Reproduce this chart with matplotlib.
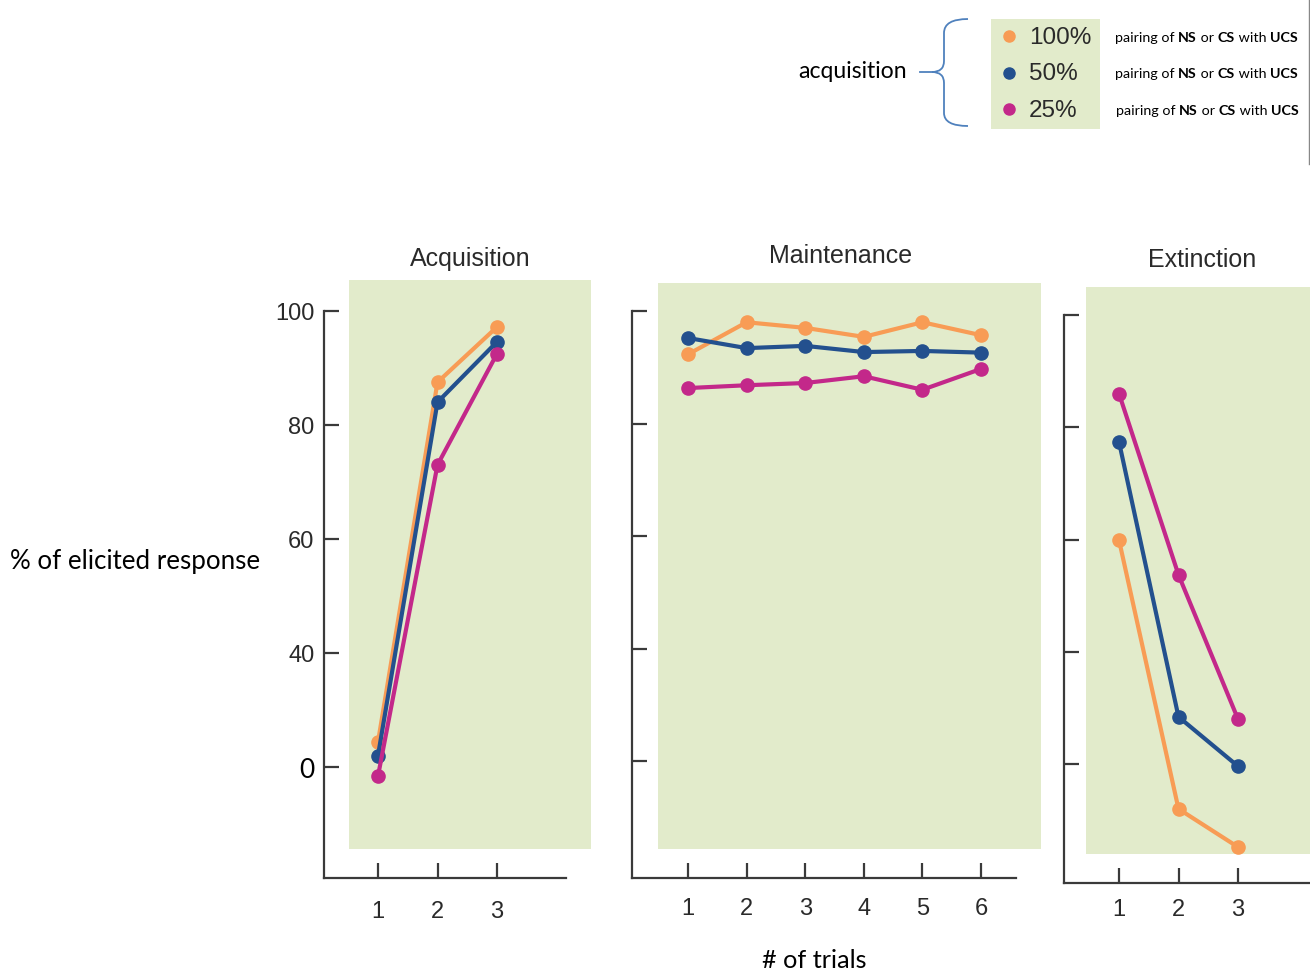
import numpy as np
import matplotlib
matplotlib.use('Agg')
import matplotlib.pyplot as plt
from matplotlib.patches import Rectangle, PathPatch
from matplotlib.path import Path

###############################################################################

# Values (% of elicited response per trial)
acq_trials = [1, 2, 3]
acq_100 = [24.4, 87.5, 97.2]
acq_50 = [22.0, 84.0, 94.6]
acq_25 = [18.4, 73.0, 92.5]

mnt_trials = [1, 2, 3, 4, 5, 6]
mnt_100 = [92.3, 98.0, 97.0, 95.4, 98.0, 95.7]
mnt_50 = [95.2, 93.4, 93.8, 92.7, 92.9, 92.6]
mnt_25 = [86.3, 86.8, 87.2, 88.4, 86.0, 89.7]

ext_trials = [1, 2, 3]
ext_100 = [59.9, 12.0, 5.2]
ext_50 = [77.4, 28.4, 19.6]
ext_25 = [86.0, 53.7, 28.0]

yticks = [20, 40, 60, 80, 100]
ytick_labels = ['0', '40', '60', '80', '100']

legend_labels = ['100%', '50%', '25%']

###############################################################################

W, H = 1310, 978
ORANGE = '#f89c55'
BLUE = '#23508e'
MAGENTA = '#c3288a'
GREEN = '#e2ebcb'
AXC = '#3a3a3a'
colors = [ORANGE, BLUE, MAGENTA]

fig = plt.figure(figsize=(W / 100, H / 100), dpi=100)

# overlay in pixel coords for the decorations (drawn first, underneath)
ov = fig.add_axes([0, 0, 1, 1])
ov.set_xlim(0, W)
ov.set_ylim(H, 0)
ov.axis('off')


def panel(box, x1px, dxpx, y100px, y20px, green, xend, series, trials,
          title, tx, ty, labels, xpad=16):
    left, right, bottom, top = box
    ax = fig.add_axes([left / W, 1 - bottom / H, (right - left) / W, (bottom - top) / H])
    k = 80.0 / (y20px - y100px)
    ax.set_xlim(1 + (left - x1px) / dxpx, 1 + (right - x1px) / dxpx)
    ax.set_ylim(20 + (y20px - bottom) * k, 20 + (y20px - top) * k)
    ax.patch.set_visible(False)

    gx0, gx1, gy0, gy1 = green
    ov.add_patch(Rectangle((gx0, gy0), gx1 - gx0, gy1 - gy0, color=GREEN, lw=0))

    for vals, c in zip(series, colors):
        ax.plot(trials, vals, color=c, lw=3.0, marker='o', ms=9.5, clip_on=False)

    for s in ['top', 'right']:
        ax.spines[s].set_visible(False)
    for s in ['left', 'bottom']:
        ax.spines[s].set_color(AXC)
        ax.spines[s].set_linewidth(1.6)
    ax.spines['left'].set_bounds(ax.get_ylim()[0], 100)
    ax.spines['bottom'].set_bounds(ax.get_xlim()[0], 1 + (xend - x1px) / dxpx)

    ax.set_xticks(trials)
    ax.set_xticklabels([str(t) for t in trials])
    ax.set_yticks(yticks)
    if labels:
        ax.set_yticklabels(ytick_labels)
    else:
        ax.set_yticklabels([])
    ax.tick_params(direction='in', length=11, width=1.6, color=AXC,
                   labelsize=17, labelcolor='#2a2a2a')
    ax.tick_params(axis='x', pad=xpad)
    ax.tick_params(axis='y', pad=7)
    for t in ax.get_xticklabels() + ax.get_yticklabels():
        t.set_fontfamily('Liberation Sans')
    if labels:
        lab0 = ax.get_yticklabels()[0]
        lab0.set_fontfamily('Lato')
        lab0.set_color('black')
        lab0.set_fontsize(19)

    ov.text(tx, ty, title, ha='center', va='center', fontsize=18,
            family='Liberation Sans', color='#2a2a2a')
    return ax


panel((324, 591, 879, 281), 378, 59.5, 312, 768, (349, 591, 281, 850), 566,
      [acq_100, acq_50, acq_25], acq_trials, 'Acquisition', 470, 259, True)
panel((632, 1041, 879, 284), 688, 58.6, 312, 762, (658, 1041, 284, 850), 1016,
      [mnt_100, mnt_50, mnt_25], mnt_trials, 'Maintenance', 841, 256, False, xpad=14)
panel((1064, 1310, 884, 288), 1119, 59.5, 316, 765, (1086, 1310, 288, 855), 1310,
      [ext_100, ext_50, ext_25], ext_trials, 'Extinction', 1202, 260, False, xpad=11)

# axis titles
ov.text(10, 561, '% of elicited response', ha='left', va='center', fontsize=18.6,
        family='Lato', color='black')
ov.text(814, 961, '# of trials', ha='center', va='center', fontsize=18.2,
        family='Lato', color='black')

# legend block
ov.add_patch(Rectangle((991, 20), 109, 110, color=GREEN, lw=0))
for i, (lab, c) in enumerate(zip(legend_labels, colors)):
    y = 37 + i * 36.5
    ov.plot([1009], [y], marker='o', ms=8, color=c, ls='none')
    ov.text(1029, y + 1, lab, ha='left', va='center', fontsize=17.5,
            family='Liberation Sans', color='#2a2a2a')
    xs = 1115 if i < 2 else 1116
    prev = ov.text(xs, y + 1, 'pairing of ', ha='left', va='center', fontsize=10.3,
                   family='Lato', color='black')
    for part, bold in [('NS', True), (' or ', False), ('CS', True), (' with ', False), ('UCS', True)]:
        prev = ov.annotate(part, xy=(1, 0), xycoords=prev, ha='left', va='bottom',
                           fontsize=10.3, family='Lato', color='black',
                           fontweight='bold' if bold else 'normal')

ov.text(907, 72, 'acquisition', ha='right', va='center', fontsize=16.6,
        family='Lato', color='black')

# curly brace
BR = '#4f81bd'
verts = [(968, 20), (944, 20), (944, 34),
         (944, 62),
         (944, 73), (932, 73),
         (944, 73), (944, 84),
         (944, 114),
         (944, 127), (968, 127)]
codes = [Path.MOVETO, Path.CURVE3, Path.CURVE3,
         Path.LINETO,
         Path.CURVE3, Path.CURVE3,
         Path.CURVE3, Path.CURVE3,
         Path.LINETO,
         Path.CURVE3, Path.CURVE3]
ov.add_patch(PathPatch(Path(verts, codes), fill=False, ec=BR, lw=1.3))
ov.plot([920, 934], [73, 73], color=BR, lw=1.3)

# thin frame edge at the top right
ov.plot([1309, 1309], [0, 165], color='#888888', lw=1)

fig.savefig('out.png', dpi=100)
